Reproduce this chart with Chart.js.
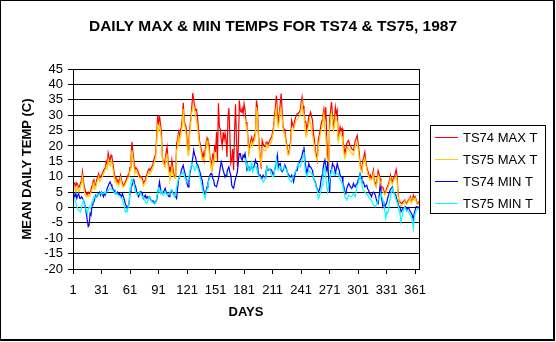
<!DOCTYPE html>
<html>
<head>
<meta charset="utf-8">
<title>Daily max & min temps TS74 & TS75, 1987</title>
<script src="https://cdn.jsdelivr.net/npm/chart.js@4.4.0/dist/chart.umd.min.js"></script>
<style>
    body { margin: 0; background: #fff; }
    #wrap { width: 556px; height: 342px; }
</style>
</head>
<body>
<div id="wrap"><canvas id="tempChart" width="556" height="342"></canvas></div>
<script>
// day numbers 1..365 and the x axis labels
var days = [];
for (var d = 1; d <= 365; d++) days.push(d);
var dayTicks = [1, 31, 61, 91, 121, 151, 181, 211, 241, 271, 301, 331, 361];

var seriesNames = ['TS74 MAX T', 'TS75 MAX T', 'TS74 MIN T', 'TS75 MIN T'];

// TS74 daily max (C)
var ts74Max = [
    6.7, 7.5, 8, 7, 8, 7.5, 6.5, 7, 8, 9,
    11.6, 8.5, 6.5, 5.5, 4.5, 4, 5, 4.5, 4.5, 6,
    7, 8.5, 9, 7, 7.5, 9, 10, 11, 9.5, 10,
    10.5, 11, 12, 12.5, 13, 15, 14, 17.7, 16, 15.4,
    17, 16.4, 14, 12, 9.4, 10, 8.3, 9, 7.8, 9,
    10.5, 8.9, 8, 7.2, 7.5, 8.3, 9, 9.9, 10.5, 11,
    13, 16, 21.3, 18, 15.4, 12, 13, 12.6, 12, 11,
    10.5, 9.9, 10, 9.4, 7.8, 8.5, 8.9, 10, 11, 12,
    12.6, 12.1, 12.5, 13.2, 14, 15.4, 16.5, 17.5, 23, 29.8,
    26.7, 30, 27, 24.5, 16.4, 15, 14.3, 15.4, 18, 19.7,
    15, 13.2, 9.4, 12, 15.4, 13, 11, 10, 9.9, 20.8,
    22, 24.5, 23, 25, 26.2, 29, 34, 28.3, 27, 26.2,
    21.8, 18.6, 22, 26.2, 29, 32.6, 37.2, 34.8, 33, 31.6,
    31.8, 29.4, 25.3, 22, 20.3, 18.8, 16.4, 17.7, 15.4, 18.6,
    21, 22.6, 21.5, 20.8, 16.6, 15.4, 11.8, 17.5, 14.4, 20.2,
    18, 24.5, 15, 33.9, 26.2, 25.3, 22, 19.9, 24.5, 22,
    24.2, 21.8, 16.4, 29, 32.3, 24, 14.4, 15.4, 19, 12.1,
    25, 33.5, 21.8, 13.2, 19.9, 34.8, 31.6, 31, 32.2, 30.5,
    33.7, 31.6, 27.8, 27.2, 22.9, 18, 20, 21.8, 22.9, 21.3,
    22, 23.5, 24.5, 34.8, 32.6, 25, 19.7, 16.4, 12.6, 21.8,
    20.8, 20, 19.7, 21, 21.3, 20.3, 21, 21.8, 22.5, 22.9,
    24.5, 26.2, 30, 32.6, 36.4, 31, 27.2, 30, 33.7, 37,
    31.6, 26.2, 25.5, 25.1, 22, 20.3, 18, 17.5, 19.5, 21.8,
    28.3, 27, 26.2, 28, 29, 30, 30.5, 30.5, 31, 31.6,
    34, 35.9, 33, 31.6, 28, 27.8, 25.1, 27, 29.4, 30,
    31, 29.5, 28.3, 24, 21.8, 18.6, 17, 15.4, 21.8, 23.5,
    25.1, 27, 28.3, 30, 32, 29.4, 32.6, 21.8, 15.4, 14.3,
    28.3, 31.6, 34.3, 30, 26.2, 28, 32.6, 30.5, 31.6, 22.9,
    24, 26.2, 25, 25.7, 22, 19.7, 17.5, 19, 20.8, 21.5,
    21.8, 20.3, 20, 19.1, 18.8, 18.6, 20, 21.8, 22.5, 23.4,
    20.8, 18, 14.3, 13, 12.1, 15.4, 16.5, 18, 15, 13.2,
    12, 11, 9.4, 10.5, 9.4, 10.5, 12.1, 8.9, 8, 7.2,
    9.5, 12, 11, 9.4, 7.5, 6.7, 6.5, 5.6, 4.5, 5,
    6.2, 7, 7.7, 8.9, 10.5, 9, 8.4, 9.5, 9.9, 11,
    12.3, 10, 4.6, 2, 1.8, 1.4, 1.3, 1.8, 2, 2.4,
    1.5, 1.3, 2, 2.4, 2.9, 3.5, 1.8, 2.5, 4, 3,
    3.5, 2.5, 1.4, 1.3, 2
];

// TS75 daily max (C), no record for most of June
var ts75Max = [
    5.5, 6, 6.5, 5, 6, 6.5, 5, 5.5, 7, 8,
    10, 7, 5, 4, 3.5, 3.5, 4, 3.5, 4, 5,
    6, 7, 8, 6, 6.5, 8, 9, 10, 8.5, 9,
    9.5, 10, 11, 11.5, 12, 13.5, 12.5, 15.4, 14, 13.5,
    15, 14, 12.5, 10.5, 8.5, 9, 7.5, 8, 7, 8,
    9.5, 8, 7, 6.5, 7, 7.5, 8, 9, 9.5, 10,
    12, 14.5, 18.5, 16, 13.5, 11, 12, 11.5, 11, 10,
    9.5, 9, 9, 8.5, 7, 7.5, 8, 9, 10, 11,
    11.5, 11, 11.5, 12, 13, 14, 15, 16, 21, 26.5,
    25, 27, 25, 22, 16, 14.5, 13.5, 13, 16.5, 17,
    13, 11.5, 9, 10.5, 13, 11, 10, 9.5, 9.5, 18.5,
    20, 23, 21, 23.5, 24.5, 27, 32, 27, 26, 23.5,
    20, 17, 20, 24.5, 28, 31, 32.6, 33, 31.5, 29,
    28, 26, 23, 20.5, 19, 17.5, 15.5, 16, 15.5, 17,
    19, 21.5, 20, 19, 15.5, 14, 11.5, 15, 14, 17.5,
    16, null, null, null, null, null, null, null, null, null,
    null, null, null, null, null, null, null, null, null, null,
    null, null, null, null, null, null, null, null, null, null,
    null, 29, 26.5, 25.5, 21.5, 17.5, 19, 20.5, 21.5, 20,
    21, 22, 23.5, 32.6, 30.5, 23, 18, 16, 14, 19,
    19, 18.5, 18.5, 20, 20.5, 19.5, 20, 20.5, 21, 21.5,
    23, 25, 28.5, 30.5, 32.6, 27, 26.2, 28, 31.5, 32,
    29, 25, 24, 23, 21, 19.5, 17, 17, 18.5, 20.5,
    25.5, 25, 25, 26.5, 27.5, 28.5, 28.5, 29, 29.5, 30,
    32, 34, 30.5, 30, 25.5, 23, 23.5, 25.5, 27, 28.5,
    27, 25, 23.5, 21.5, 19.5, 17, 16, 15.4, 19.5, 21.5,
    23.5, 25, 26.5, 28.5, 30.5, 25, 23, 17, 14.5, 14,
    25, 29, 31, 28, 25, 26, 29.5, 28.5, 28, 21.5,
    22.5, 24, 23.5, 23, 19.5, 17.5, 16, 17, 18.5, 19.5,
    19.5, 18.5, 18, 17.5, 17.5, 17, 18.5, 20, 21, 21,
    19, 16.5, 13.5, 12, 11.5, 14, 15, 16, 14, 12.5,
    11, 10, 9, 9.5, 9, 9.5, 11, 8, 7, 6.5,
    8.5, 10.5, 10, 8.5, 6.5, 6, 5.5, 4.5, 4, 4.5,
    5.5, 6, 7, 8, 9.5, 8, 7.5, 8.5, 9, 9.5,
    10, 8.5, 4, 1.5, 1, 0.5, 0.5, 1, 1.5, 2,
    1, 1, 1.5, 2, 2.5, 3, 1.5, 2, 3, 2.5,
    3, 2, 1, 1, 1.5
];

// TS74 daily min (C)
var ts74Min = [
    5, 4, 3.5, 4.5, 3, 4, 4.5, 3, 2.9, 3.5,
    3, 2.4, 1.5, 0.2, -2, -4.1, -6.2, -5.7, -1.9, -2.5,
    0.8, 1.5, 1.8, 3, 4, 3.5, 4.5, 4.5, 5, 4,
    5.1, 4.5, 3.5, 4.5, 4, 5, 6.2, 7, 7.8, 8.3,
    7.5, 6.7, 6, 5.1, 5.5, 4.5, 4.5, 5, 4, 4.5,
    4, 3.5, 4.5, 3.5, 2.5, 1.3, 0.5, -0.3, 0.5, 1.3,
    5.1, 6, 7.2, 8, 8.9, 7.5, 6.7, 5, 4, 3.5,
    4.5, 5.1, 5, 4.5, 2.9, 3.5, 4, 3, 3.5, 3,
    3.5, 2.9, 2.5, 2, 2.2, 1.8, 1.3, 2, 2.4, 4.5,
    6.2, 8.3, 6.2, 5, 4.5, 5.1, 5.5, 6.2, 5, 4.5,
    4, 3.5, 4.5, 5.1, 5.6, 5, 4.5, 3.5, 3.5, 2.9,
    6, 8.9, 10, 10.5, 12.1, 13, 13.7, 12, 11, 9,
    7.8, 6.7, 8.5, 11, 12.5, 14.3, 16, 18.6, 17, 16.4,
    14.3, 14, 13.2, 12, 11, 9.5, 8.9, 6.2, 5, 4,
    5.5, 6.7, 8, 9.4, 10.5, 11, 11, 9.5, 8.9, 7.2,
    7, 6.7, 8, 9.4, 11, 13.2, 14.8, 13.5, 12.1, 11,
    9.9, 10.5, 11.6, 12.5, 13.2, 11.5, 10.5, 7.2, 6.5, 6.2,
    8, 9.4, 10.5, 11.6, 15.4, 17.5, 17.5, 15.9, 15.4, 17,
    16.4, 17.5, 14.8, 12.1, 12.5, 13.2, 12.1, 12.5, 13.2, 12.6,
    13, 14, 15.4, 14.3, 14.3, 11, 10.5, 10.5, 9.4, 9.5,
    10.5, 10, 9.9, 11.5, 13.2, 12.1, 12.1, 12.6, 12.3, 12.1,
    11, 10.5, 12, 13.2, 15, 17, 13.2, 14, 14.3, 12,
    11.6, 12.1, 13, 13.7, 13, 12.1, 11, 10.5, 10.2, 9.9,
    10.5, 9.5, 8.3, 10, 11.6, 12, 12.1, 14.3, 14.5, 15.4,
    16, 17, 18.5, 19.7, 15.4, 13, 11, 12.5, 14.3, 13.2,
    13.2, 12.5, 12.1, 9.4, 8.8, 8.3, 6.7, 6, 5.1, 5.5,
    6.7, 9, 10.5, 12.5, 14.3, 15.4, 13, 12, 15, 9,
    4.7, 12, 12.1, 14.3, 13.5, 13.2, 11, 12.5, 14.3, 13,
    12.1, 10.5, 10, 9.9, 8, 6.7, 5, 4.5, 6.2, 7,
    7.8, 7.2, 6.7, 6.2, 6.5, 7.8, 7, 6.7, 7.5, 7.8,
    8.9, 9.5, 11, 10, 8.9, 8.5, 7.8, 6.7, 7, 7.2,
    6, 5.6, 4.5, 4.3, 3.5, 4.5, 5, 4.8, 4, 2.8,
    1.8, 1.3, 3.5, 6.8, 4.5, 2.3, 0.3, 1.5, -0.2, 1,
    1.4, 3, 4, 5.1, 6, 6.3, 6.7, 5.1, 4.5, 4.3,
    3.5, 2.3, 1.2, 0.2, 0.3, -1.4, -0.9, -0.3, -0.2, 0.2,
    0.3, -0.9, -0.3, 0, -0.8, -1.4, -1.9, -2.5, -3.9, -1.9,
    -0.8, 0.2, 0.3, -0.3, 0.2
];

// TS75 daily min (C), gap late May to end of June
var ts75Min = [
    3.5, 3, 2.4, 1.5, 0.2, -0.5, -0.9, -1.2, -1.4, 0,
    1.3, 2.4, 1, -0.3, -1, -1.9, -0.5, 0.2, -0.3, 0,
    1.8, 2.5, 3.5, 3, 3.5, 4, 4.5, 4, 4.5, 4.5,
    5, 4.5, 4.5, 5, 4.5, 5.1, 5.1, 5.5, 6, 6.2,
    6, 5.8, 5.6, 5, 4.5, 5, 4.5, 4.3, 4, 3.8,
    3.5, 3, 2.5, 1.3, 0.5, -1.4, -1, -1.4, 0, 1.3,
    6.2, 8, 9.4, 8.5, 7.8, 6, 5, 4.5, 4, 4.5,
    5.1, 4.5, 4, 3.5, 3.5, 2.5, 2, 1.3, 1.5, 2.5,
    3.5, 3.5, 2.5, 2, 1.5, 1.3, 1.5, 1.3, 3.5, 4.5,
    6.2, 5.6, 4.5, 5.6, 5, 4, 4.5, 5.1, 4.5, 4,
    4.5, 4.5, 5.1, 5.5, 5.6, 4.5, 4, 3.5, 4.5, 6.7,
    8, 9.4, 10, 10.5, 11, 11, 11.6, 10.5, 9.4, 8.8,
    8.3, 9.2, 9.9, 12.1, 13, 14.3, 13.5, 13.2, 12.1, 12.5,
    13.7, 13, 12.1, 10.5, 9.4, 8, 6.2, 5, 4, 3,
    5.1, 6, 7.2, 9, 10, null, null, null, null, null,
    null, null, null, null, null, null, null, null, null, null,
    null, null, null, null, null, null, null, null, null, null,
    null, null, null, null, null, null, null, null, null, null,
    null, 16, 14.5, 13.2, 13.6, 12.1, 12.6, 12.5, 15.2, 11.6,
    12.5, 13.2, 13.2, 13.2, 11.5, 10.5, 10, 9.9, 9.4, 9,
    8.3, 8.8, 9.4, 11, 13.2, 12.5, 12.6, 12.6, 11, 10.5,
    9.9, 9.9, 12, 14, 15.4, 13, 12.1, 12.8, 13.2, 12.5,
    12.1, 12.5, 13.2, 13.2, 12.5, 12.1, 10.5, 9.5, 8.9, 8.5,
    8.3, 9.5, 10.5, 11, 11.6, 12.6, 13.5, 14.3, 13.5, 13.2,
    14, 15.4, 16.5, 18, 13.2, 11, 9.9, 11, 12.1, 11.6,
    11.6, 11, 10.5, 9.9, 8.5, 7.8, 6.5, 5.6, 2.9, 3.5,
    4.5, 6, 7.2, 10, 12.1, 13.2, 9.9, 6.7, 5, 7.2,
    9, 10.5, 12.1, 11.5, 11, 10.5, 10.5, 11, 11, 11,
    10, 9, 8.5, 7.8, 6.5, 5.6, 3.5, 3, 2.4, 3,
    4, 3.8, 3.5, 3.5, 4, 4.5, 4, 3.5, 5.5, 7,
    7.8, 9, 10.5, 9, 7.2, 6, 5.5, 5.1, 4.5, 4.3,
    4, 3.5, 3, 2.5, 2.4, 1.5, 0.8, 0.5, 0.2, 0.8,
    1.5, 2.4, 3, 3.5, 4.5, 3.5, 2.4, 1, -1, -3.5,
    -1.5, -1.9, -0.9, 2, 3.5, 5, 6.2, 5.5, 4.5, 3.5,
    2.4, 1.5, 0.8, -1, -1.9, -4.8, -3.5, -1.4, -0.5, 0.2,
    -0.5, -0.9, -0.9, -1.5, -1.9, -2.5, -3, -4.5, -6.8, -3.5,
    -1.9, -1.2, -0.9, -0.3, -0.5
];

var lineColors = ['#ff0000', '#ffcc00', '#0000ff', '#00ffff'];
var font = 'Arial, "Liberation Sans", sans-serif';

// white page, black frames, the title and the boxed legend
var excelLook = {
    id: 'excelLook',
    beforeDraw: function(chart) {
        var ctx = chart.ctx;
        ctx.save();
        ctx.fillStyle = '#fff';
        ctx.fillRect(0, 0, chart.width, chart.height);
        ctx.restore();
    },
    afterDatasetsDraw: function(chart) {
        var ctx = chart.ctx, a = chart.chartArea;
        ctx.save();
        ctx.strokeStyle = '#000';
        ctx.lineWidth = 1;
        ctx.strokeRect(Math.round(a.left) + 0.5, Math.round(a.top) + 0.5,
            Math.round(a.right - a.left), Math.round(a.bottom - a.top));
        ctx.restore();
    },
    afterDraw: function(chart) {
        var ctx = chart.ctx;
        ctx.save();
        ctx.fillStyle = '#000';
        // outer chart border
        ctx.fillRect(0, 0, 555, 1);
        ctx.fillRect(0, 0, 1, 341);
        ctx.fillRect(553, 0, 2, 341);
        ctx.fillRect(0, 339, 555, 2);

        // title
        ctx.font = 'bold 15.5px ' + font;
        ctx.textAlign = 'center';
        ctx.textBaseline = 'middle';
        ctx.fillText('DAILY MAX & MIN TEMPS FOR TS74 & TS75, 1987', 273, 27);

        // legend
        ctx.strokeStyle = '#000';
        ctx.lineWidth = 1;
        ctx.strokeRect(430.5, 125.5, 115, 88);
        ctx.font = '13px ' + font;
        ctx.textAlign = 'left';
        chart.data.datasets.forEach(function(ds, i) {
            var y = 137 + i * 22;
            ctx.strokeStyle = ds.borderColor;
            ctx.beginPath();
            ctx.moveTo(435, y + 0.5);
            ctx.lineTo(458, y + 0.5);
            ctx.stroke();
            ctx.fillStyle = '#000';
            ctx.fillText(ds.label, 463, y + 1);
        });
        ctx.restore();
    }
};

function makeSet(i, values) {
    return {
        label: seriesNames[i],
        data: values,
        borderColor: lineColors[i],
        backgroundColor: lineColors[i],
        borderWidth: 1.2,
        pointRadius: 0,
        tension: 0,
        spanGaps: false,
        order: 4 - i
    };
}

var tempChart = new Chart(document.getElementById('tempChart').getContext('2d'), {
    type: 'line',
    data: {
        labels: days,
        datasets: [
            makeSet(0, ts74Max),
            makeSet(1, ts75Max),
            makeSet(2, ts74Min),
            makeSet(3, ts75Min)
        ]
    },
    options: {
        responsive: false,
        animation: false,
        devicePixelRatio: 1,
        layout: { padding: { top: 69, right: 137, bottom: 0, left: 0 } },
        plugins: {
            legend: { display: false },
            title: { display: false },
            tooltip: { enabled: false }
        },
        scales: {
            x: {
                type: 'linear',
                min: 1,
                max: 365,
                afterBuildTicks: function(scale) {
                    scale.ticks = dayTicks.map(function(v) { return { value: v }; });
                },
                afterFit: function(scale) { scale.height = 73; },
                ticks: { color: '#000', font: { family: font, size: 13 }, padding: 9, maxRotation: 0, autoSkip: false },
                grid: { drawOnChartArea: false, color: '#000', tickLength: 5 },
                border: { color: '#000' },
                title: {
                    display: true,
                    text: 'DAYS',
                    color: '#000',
                    font: { family: font, size: 13, weight: 'bold' },
                    padding: { top: 0, bottom: 22 }
                }
            },
            y: {
                min: -20,
                max: 45,
                afterFit: function(scale) { scale.width = 73; },
                ticks: { stepSize: 5, autoSkip: false, color: '#000', font: { family: font, size: 13 }, padding: 5 },
                grid: { color: '#000', tickLength: 5 },
                border: { color: '#000' },
                title: {
                    display: true,
                    text: 'MEAN DAILY TEMP (C)',
                    color: '#000',
                    font: { family: font, size: 13, weight: 'bold' },
                    padding: { top: 20, bottom: 0 }
                }
            }
        }
    },
    plugins: [excelLook]
});
</script>
</body>
</html>
